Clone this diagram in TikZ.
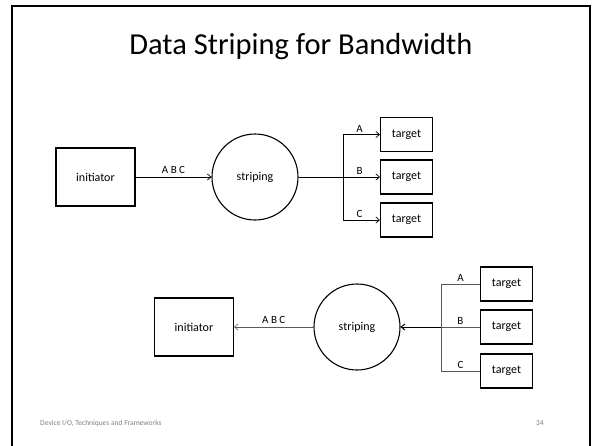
\documentclass[tikz,border=0pt]{standalone}
\usepackage{fontspec}
\setmainfont{Carlito}
\usetikzlibrary{arrows.meta}
\begin{document}
\begin{tikzpicture}[x=1pt,y=-1pt,
  box/.style={draw,line width=1.1pt,minimum width=79pt,minimum height=58pt,inner sep=0pt,font=\fontsize{12}{14}\selectfont},
  tbox/.style={draw,line width=1.1pt,minimum width=52pt,minimum height=34pt,inner sep=0pt,font=\fontsize{12}{14}\selectfont},
  circ/.style={draw,circle,line width=1.1pt,minimum size=86pt,inner sep=0pt,font=\fontsize{12}{14}\selectfont},
  lbl/.style={font=\fontsize{11}{13}\selectfont,inner sep=1pt},
  conn/.style={line width=0.7pt},
  arr/.style={conn,-{Straight Barb[length=3.5pt,width=6pt]}},
  gconn/.style={line width=0.6pt,draw=black!65},
]
\useasboundingbox (0,0) rectangle (602,445);
\fill[white] (0,0) rectangle (602,445);
% slide frame
\draw[line width=2pt] (12,450) -- (12,6) -- (590,6) -- (590,450);
% title
\node (title) at (301,47) {\fontsize{30.5}{34}\selectfont Data Striping for Bandwidth};
% upper diagram
\node[box] (i1) at (95.5,177) {initiator};
\node[circ] (s1) at (255,177) {striping};
\node[tbox] (t1a) at (406.5,134.5) {target};
\node[tbox] (t1b) at (406.5,177) {target};
\node[tbox] (t1c) at (406.5,220) {target};
\coordinate (j1) at (343,177);
\coordinate (j1a) at (343,134.5);
\coordinate (j1c) at (343,220);
\draw[arr] (i1.east) -- node[lbl,above=2pt] {A B C} (s1.west);
\draw[conn] (s1.east) -- (j1);
\draw[conn] (j1a) -- (j1c);
\draw[arr] (j1a) -- node[lbl,above=1pt,pos=0.45] {A} (t1a.west);
\draw[arr] (j1) -- node[lbl,above=1pt,pos=0.45] {B} (t1b.west);
\draw[arr] (j1c) -- node[lbl,above=1pt,pos=0.45] {C} (t1c.west);
% lower diagram
\node[box] (i2) at (194,327) {initiator};
\node[circ] (s2) at (357,327) {striping};
\node[tbox] (t2a) at (506.5,284) {target};
\node[tbox] (t2b) at (506.5,327) {target};
\node[tbox] (t2c) at (506.5,371) {target};
\coordinate (j2) at (441,327);
\coordinate (j2a) at (441,284);
\coordinate (j2c) at (441,371);
\draw[gconn,-{Straight Barb[length=3.5pt,width=6pt]}] (s2.west) -- node[lbl,above=2pt,text=black] {A B C} (i2.east);
\draw[conn,line width=1pt,-{Straight Barb[length=3.5pt,width=6pt]}] (j2) -- (s2.east);
\draw[gconn] (j2a) -- (j2c);
\draw[gconn] (t2a.west) -- node[lbl,above=1pt,pos=0.5,text=black] {A} (j2a);
\draw[gconn] (t2b.west) -- node[lbl,above=1pt,pos=0.5,text=black] {B} (j2);
\draw[gconn] (t2c.west) -- node[lbl,above=1pt,pos=0.5,text=black] {C} (j2c);
% footer
\node[anchor=west,text=black!50,font=\fontsize{7.5}{9}\selectfont,inner sep=0pt] (foot) at (40,423) {Device I/O, Techniques and Frameworks};
\node[anchor=east,text=black!50,font=\fontsize{7.5}{9}\selectfont,inner sep=0pt] (page) at (544,423) {34};
\end{tikzpicture}
\end{document}
